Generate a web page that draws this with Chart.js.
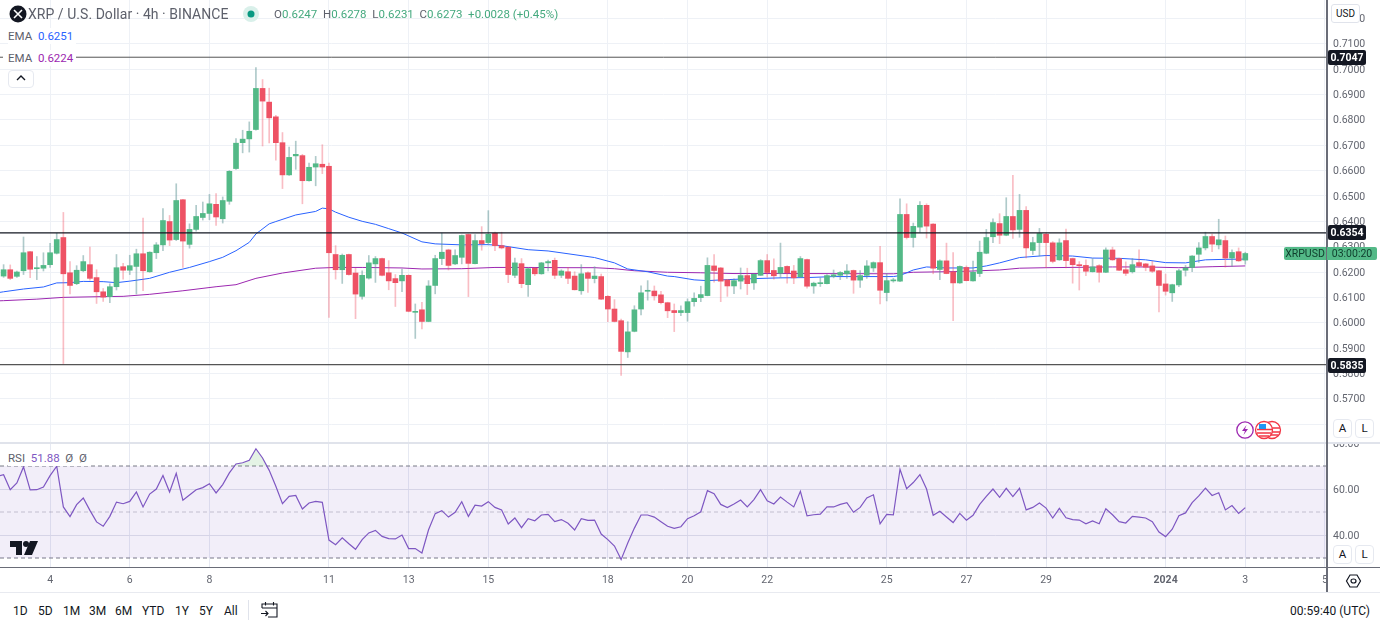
<!DOCTYPE html>
<html>
<head>
<meta charset="utf-8">
<title>XRP / U.S. Dollar</title>
<script src="https://cdn.jsdelivr.net/npm/chart.js@4"></script>
<style>
html, body { margin: 0; padding: 0; background: #fff; overflow: hidden; }
body { width: 1380px; height: 627px; position: relative; font-family: Roboto, sans-serif; color: #5d606b; }
canvas { position: absolute; left: 0; display: block; }
#priceChart { top: 0; }
#rsiChart { top: 443px; }
.t { position: absolute; white-space: nowrap; line-height: 16px; }
.line { position: absolute; }
.badge { position: absolute; left: 1328px; width: 38px; height: 15px; line-height: 15px; background: #131722; color: #fff; font-size: 10.5px; font-weight: 700; text-align: center; border-radius: 2px; }
.btn { position: absolute; width: 17px; height: 17px; line-height: 17px; border: 1px solid #e6e9f0; border-radius: 4px; text-align: center; font-size: 11.5px; color: #131722; background: #fff; }
.g { color: #45a97f; }
.range { position: absolute; top: 603px; font-size: 12px; line-height: 16px; color: #131722; }
svg { position: absolute; overflow: visible; }
</style>
</head>
<body>
<canvas id="priceChart" width="1380" height="443"></canvas>
<canvas id="rsiChart" width="1380" height="149"></canvas>

<div class="line" style="left:0;top:442px;width:1380px;height:2px;background:#e0e3eb"></div>
<div class="line" style="left:1327px;top:568px;width:53px;height:24px;background:#fff"></div>
<div class="line" style="left:1328px;top:415px;width:52px;height:27px;background:#fff"></div>
<div class="line" style="left:1326px;top:0;width:1.5px;height:592px;background:#6a6d78"></div>
<div class="line" style="left:0;top:567px;width:1380px;height:1px;background:#6a6d78"></div>
<div class="line" style="left:0;top:592px;width:1380px;height:1px;background:#e8eaf0"></div>

<svg style="left:9px;top:5px" width="18" height="18" viewBox="0 0 18 18"><circle cx="9" cy="9" r="8.5" fill="#131722"/><path d="M5 5L13 13M13 5L5 13" stroke="#fff" stroke-width="1.6"/></svg>
<div class="t" style="left:28px;top:6px;font-size:14px;letter-spacing:0.04px;color:#5d606b">XRP / U.S. Dollar · 4h · BINANCE</div>
<svg style="left:243px;top:6px" width="16" height="16" viewBox="0 0 16 16"><circle cx="8" cy="8" r="8" fill="#d9f0ea"/><circle cx="8" cy="8" r="3.5" fill="#089981"/></svg>
<div class="t" style="left:274px;top:6px;font-size:11.5px">O<span class="g">0.6247</span>&nbsp; H<span class="g">0.6278</span>&nbsp; L<span class="g">0.6231</span>&nbsp; C<span class="g">0.6273</span>&nbsp; <span class="g">+0.0028 (+0.45%)</span></div>
<div class="t" style="left:8px;top:28px;font-size:11.5px;background:#fff;padding-right:3px">EMA&nbsp; <span style="color:#2962ff">0.6251</span></div>
<div class="t" style="left:3px;top:50px;padding:0 3px 0 5px;font-size:11.5px;background:#fff">EMA&nbsp; <span style="color:#9c27b0">0.6224</span></div>
<div class="btn" style="left:8px;top:70px;width:24px;height:16px;line-height:16px"></div>
<svg style="left:16px;top:75px" width="10" height="6"><path d="M1 5L5 1L9 5" fill="none" stroke="#131722" stroke-width="1.4"/></svg>

<div class="t" style="left:1331px;top:4px;width:27px;height:17px;line-height:17px;font-size:10px;text-align:center;color:#131722;border:1px solid #e0e3eb;border-radius:3px;background:#fff">USD</div>
<div class="badge" style="top:50px">0.7047</div>
<div class="badge" style="top:225px">0.6354</div>
<div class="badge" style="top:358px">0.5835</div>
<div class="t" style="left:1284px;top:247px;width:42px;height:13px;line-height:13px;font-size:10.5px;text-align:center;background:#53b987;color:#0f3d2c;border-radius:2px 0 0 2px">XRPUSD</div>
<div class="t" style="left:1327px;top:247px;width:50px;height:13px;line-height:13px;font-size:10.5px;text-align:center;background:#53b987;color:#0f3d2c;border-radius:0 2px 2px 0">03:00:20</div>

<svg style="left:1236px;top:421px" width="46" height="18" viewBox="0 0 46 18">
<circle cx="9" cy="9" r="8.2" fill="#fff" stroke="#9c27b0" stroke-width="1.3"/><path d="M10.5 4L6 10H9L7.5 14L12 8H9Z" fill="#9c27b0"/>
<circle cx="36" cy="9" r="8.5" fill="#fff" stroke="#f23645" stroke-width="1.3"/><path d="M29 7H44M29 11H44M30 14H42" stroke="#f23645" stroke-width="1.6"/>
<circle cx="28" cy="9" r="8.5" fill="#fff" stroke="#f23645" stroke-width="1.3"/><path d="M21 8.5H36M21 12H35M23 15H33" stroke="#f23645" stroke-width="1.6"/><rect x="23" y="3" width="7" height="5" fill="#2196f3"/>
</svg>
<div class="btn" style="left:1333px;top:419px">A</div>
<div class="btn" style="left:1355px;top:419px">L</div>

<div class="t" style="left:8px;top:450px;font-size:11.5px;background:#fff;padding-right:3px">RSI&nbsp; <span style="color:#7e57c2">51.88</span>&nbsp; Ø&nbsp; Ø</div>
<svg style="left:10px;top:541px" width="28" height="14" viewBox="0 0 28 14"><path d="M0 0H12V14H6V6H0ZM20 0H28L22 14H14Z" fill="#131722"/><circle cx="16" cy="3" r="3" fill="#131722"/></svg>
<div class="btn" style="left:1333px;top:545px">A</div>
<div class="btn" style="left:1355px;top:545px">L</div>
<svg style="left:1346px;top:574px" width="15" height="14" viewBox="0 0 15 14"><path d="M4 1H11L14.5 7L11 13H4L0.5 7Z" fill="none" stroke="#131722" stroke-width="1.2"/><ellipse cx="7.5" cy="7" rx="2.5" ry="2" fill="none" stroke="#131722" stroke-width="1.2"/></svg>

<div class="range" style="left:13px">1D</div>
<div class="range" style="left:38px">5D</div>
<div class="range" style="left:63px">1M</div>
<div class="range" style="left:89px">3M</div>
<div class="range" style="left:115px">6M</div>
<div class="range" style="left:142px">YTD</div>
<div class="range" style="left:175px">1Y</div>
<div class="range" style="left:199px">5Y</div>
<div class="range" style="left:224px">All</div>
<div class="line" style="left:248px;top:600px;width:1px;height:20px;background:#e0e3eb"></div>
<svg style="left:261px;top:601px" width="17" height="17" viewBox="0 0 17 17"><path d="M1 7V3H16V16H7M1 7H16M4.5 1V4.5M12.5 1V4.5M0 12.5H7M4.5 10L7 12.5L4.5 15" fill="none" stroke="#131722" stroke-width="1.1"/></svg>
<div class="t" style="left:1290px;top:603px;font-size:12px;color:#131722">00:59:40 (UTC)</div>

<script>
const opens = [
    0.6184, 0.6209, 0.6183, 0.6205, 0.6280, 0.6213, 0.6215, 0.6229, 0.6274, 0.6336,
    0.6197, 0.6154, 0.6205, 0.6229, 0.6178, 0.6122, 0.6103, 0.6142, 0.6221, 0.6207,
    0.6222, 0.6272, 0.6201, 0.6276, 0.6307, 0.6399, 0.6328, 0.6485, 0.6309, 0.6368,
    0.6415, 0.6431, 0.6467, 0.6410, 0.6479, 0.6608, 0.6710, 0.6725, 0.6762, 0.6924,
    0.6870, 0.6812, 0.6710, 0.6583, 0.6658, 0.6659, 0.6560, 0.6614, 0.6625, 0.6617,
    0.6269, 0.6209, 0.6269, 0.6196, 0.6104, 0.6176, 0.6232, 0.6253, 0.6197, 0.6174,
    0.6165, 0.6187, 0.6041, 0.6051, 0.6005, 0.6147, 0.6253, 0.6287, 0.6232, 0.6258,
    0.6348, 0.6233, 0.6324, 0.6316, 0.6353, 0.6304, 0.6298, 0.6187, 0.6233, 0.6150,
    0.6215, 0.6193, 0.6236, 0.6246, 0.6187, 0.6201, 0.6184, 0.6126, 0.6197, 0.6174,
    0.6182, 0.6104, 0.6054, 0.6008, 0.5885, 0.5966, 0.6054, 0.6124, 0.6125, 0.6110,
    0.6079, 0.6048, 0.6040, 0.6040, 0.6083, 0.6099, 0.6107, 0.6224, 0.6216, 0.6169,
    0.6145, 0.6164, 0.6186, 0.6157, 0.6187, 0.6245, 0.6206, 0.6195, 0.6222, 0.6204,
    0.6181, 0.6249, 0.6145, 0.6154, 0.6154, 0.6183, 0.6187, 0.6193, 0.6206, 0.6168,
    0.6187, 0.6216, 0.6237, 0.6119, 0.6165, 0.6164, 0.6427, 0.6336, 0.6377, 0.6463,
    0.6389, 0.6210, 0.6244, 0.6200, 0.6157, 0.6218, 0.6165, 0.6194, 0.6274, 0.6339,
    0.6391, 0.6345, 0.6419, 0.6368, 0.6443, 0.6285, 0.6316, 0.6349, 0.6315, 0.6248,
    0.6324, 0.6253, 0.6228, 0.6226, 0.6201, 0.6225, 0.6199, 0.6287, 0.6253, 0.6209,
    0.6201, 0.6237, 0.6232, 0.6224, 0.6205, 0.6153, 0.6118, 0.6149, 0.6207, 0.6218,
    0.6270, 0.6295, 0.6340, 0.6307, 0.6324, 0.6255, 0.6280, 0.6247,
];
const closes = [
    0.6209, 0.6175, 0.6200, 0.6276, 0.6211, 0.6217, 0.6226, 0.6276, 0.6328, 0.6193,
    0.6147, 0.6207, 0.6241, 0.6175, 0.6122, 0.6101, 0.6142, 0.6217, 0.6207, 0.6225,
    0.6272, 0.6205, 0.6278, 0.6307, 0.6403, 0.6326, 0.6482, 0.6322, 0.6368, 0.6419,
    0.6431, 0.6469, 0.6417, 0.6482, 0.6597, 0.6708, 0.6724, 0.6755, 0.6924, 0.6874,
    0.6808, 0.6710, 0.6583, 0.6652, 0.6664, 0.6560, 0.6613, 0.6627, 0.6614, 0.6276,
    0.6209, 0.6266, 0.6190, 0.6113, 0.6187, 0.6236, 0.6253, 0.6187, 0.6165, 0.6158,
    0.6187, 0.6045, 0.6045, 0.6005, 0.6145, 0.6253, 0.6278, 0.6226, 0.6265, 0.6344,
    0.6234, 0.6324, 0.6312, 0.6349, 0.6304, 0.6295, 0.6190, 0.6236, 0.6154, 0.6213,
    0.6193, 0.6236, 0.6241, 0.6187, 0.6204, 0.6175, 0.6130, 0.6193, 0.6175, 0.6184,
    0.6093, 0.6054, 0.6005, 0.5887, 0.5964, 0.6051, 0.6118, 0.6126, 0.6106, 0.6079,
    0.6047, 0.6040, 0.6048, 0.6083, 0.6096, 0.6111, 0.6226, 0.6206, 0.6164, 0.6145,
    0.6166, 0.6186, 0.6154, 0.6191, 0.6245, 0.6198, 0.6185, 0.6218, 0.6197, 0.6177,
    0.6253, 0.6144, 0.6156, 0.6157, 0.6186, 0.6189, 0.6198, 0.6204, 0.6168, 0.6186,
    0.6224, 0.6237, 0.6128, 0.6166, 0.6169, 0.6427, 0.6336, 0.6380, 0.6463, 0.6381,
    0.6215, 0.6244, 0.6194, 0.6157, 0.6222, 0.6166, 0.6199, 0.6278, 0.6336, 0.6395,
    0.6345, 0.6419, 0.6366, 0.6443, 0.6295, 0.6316, 0.6352, 0.6316, 0.6242, 0.6315,
    0.6245, 0.6229, 0.6225, 0.6203, 0.6220, 0.6199, 0.6287, 0.6248, 0.6207, 0.6195,
    0.6229, 0.6224, 0.6219, 0.6203, 0.6147, 0.6124, 0.6150, 0.6205, 0.6216, 0.6263,
    0.6295, 0.6340, 0.6310, 0.6327, 0.6255, 0.6277, 0.6244, 0.6273,
];
const highs = [
    0.6229, 0.6228, 0.6204, 0.6338, 0.6282, 0.6261, 0.6276, 0.6313, 0.6353, 0.6435,
    0.6241, 0.6225, 0.6265, 0.6298, 0.6209, 0.6135, 0.6153, 0.6269, 0.6234, 0.6266,
    0.6290, 0.6413, 0.6280, 0.6316, 0.6450, 0.6423, 0.6548, 0.6487, 0.6390, 0.6463,
    0.6476, 0.6506, 0.6509, 0.6496, 0.6600, 0.6726, 0.6759, 0.6792, 0.7006, 0.6959,
    0.6925, 0.6818, 0.6750, 0.6693, 0.6716, 0.6664, 0.6630, 0.6656, 0.6702, 0.6630,
    0.6304, 0.6271, 0.6271, 0.6215, 0.6205, 0.6265, 0.6261, 0.6255, 0.6245, 0.6190,
    0.6212, 0.6189, 0.6074, 0.6080, 0.6166, 0.6266, 0.6354, 0.6290, 0.6287, 0.6346,
    0.6350, 0.6348, 0.6379, 0.6442, 0.6357, 0.6357, 0.6300, 0.6255, 0.6253, 0.6215,
    0.6217, 0.6238, 0.6247, 0.6255, 0.6209, 0.6218, 0.6201, 0.6229, 0.6201, 0.6221,
    0.6192, 0.6107, 0.6091, 0.6014, 0.6004, 0.6067, 0.6146, 0.6166, 0.6145, 0.6124,
    0.6081, 0.6074, 0.6067, 0.6094, 0.6118, 0.6144, 0.6256, 0.6269, 0.6218, 0.6171,
    0.6173, 0.6216, 0.6215, 0.6193, 0.6249, 0.6269, 0.6252, 0.6314, 0.6224, 0.6226,
    0.6261, 0.6251, 0.6160, 0.6177, 0.6190, 0.6208, 0.6202, 0.6229, 0.6208, 0.6206,
    0.6245, 0.6240, 0.6301, 0.6193, 0.6175, 0.6489, 0.6469, 0.6393, 0.6478, 0.6469,
    0.6391, 0.6248, 0.6314, 0.6277, 0.6224, 0.6224, 0.6243, 0.6322, 0.6368, 0.6410,
    0.6430, 0.6493, 0.6581, 0.6506, 0.6458, 0.6337, 0.6372, 0.6354, 0.6320, 0.6331,
    0.6369, 0.6255, 0.6241, 0.6248, 0.6253, 0.6229, 0.6295, 0.6298, 0.6255, 0.6240,
    0.6253, 0.6287, 0.6234, 0.6242, 0.6207, 0.6192, 0.6152, 0.6211, 0.6226, 0.6265,
    0.6316, 0.6357, 0.6350, 0.6408, 0.6342, 0.6287, 0.6295, 0.6278,
];
const lows = [
    0.6179, 0.6170, 0.6179, 0.6190, 0.6178, 0.6170, 0.6204, 0.6218, 0.6271, 0.5839,
    0.6114, 0.6150, 0.6201, 0.6168, 0.6076, 0.6084, 0.6079, 0.6129, 0.6172, 0.6190,
    0.6113, 0.6126, 0.6199, 0.6253, 0.6284, 0.6304, 0.6324, 0.6218, 0.6294, 0.6361,
    0.6405, 0.6406, 0.6384, 0.6393, 0.6467, 0.6605, 0.6670, 0.6673, 0.6759, 0.6697,
    0.6709, 0.6641, 0.6529, 0.6581, 0.6605, 0.6469, 0.6558, 0.6540, 0.6588, 0.6021,
    0.6172, 0.6155, 0.6188, 0.6016, 0.6093, 0.6172, 0.6159, 0.6185, 0.6130, 0.6064,
    0.6122, 0.6043, 0.5938, 0.5976, 0.6004, 0.6114, 0.6229, 0.6208, 0.6229, 0.6232,
    0.6103, 0.6232, 0.6286, 0.6307, 0.6284, 0.6291, 0.6158, 0.6178, 0.6138, 0.6104,
    0.6186, 0.6191, 0.6204, 0.6174, 0.6178, 0.6154, 0.6129, 0.6112, 0.6120, 0.6157,
    0.6091, 0.6004, 0.6003, 0.5792, 0.5863, 0.5964, 0.6031, 0.6089, 0.6089, 0.6074,
    0.6020, 0.5965, 0.6028, 0.6006, 0.6065, 0.6083, 0.6106, 0.6160, 0.6083, 0.6104,
    0.6115, 0.6133, 0.6111, 0.6131, 0.6186, 0.6180, 0.6172, 0.6177, 0.6156, 0.6154,
    0.6179, 0.6136, 0.6116, 0.6143, 0.6153, 0.6177, 0.6170, 0.6175, 0.6116, 0.6139,
    0.6175, 0.6202, 0.6074, 0.6086, 0.6160, 0.6162, 0.6330, 0.6298, 0.6357, 0.6334,
    0.6193, 0.6170, 0.6193, 0.6008, 0.6155, 0.6165, 0.6164, 0.6182, 0.6272, 0.6316,
    0.6312, 0.6343, 0.6332, 0.6337, 0.6256, 0.6269, 0.6264, 0.6217, 0.6236, 0.6246,
    0.6216, 0.6156, 0.6129, 0.6186, 0.6200, 0.6160, 0.6197, 0.6246, 0.6205, 0.6186,
    0.6196, 0.6219, 0.6205, 0.6198, 0.6043, 0.6109, 0.6084, 0.6142, 0.6184, 0.6201,
    0.6238, 0.6287, 0.6280, 0.6291, 0.6219, 0.6222, 0.6242, 0.6231,
];

// EMAs read at the bars where the curve bends
const emaFastBars = [-1, 0, 3, 6, 8, 10, 12, 15, 17, 19, 22, 25, 28, 31, 33, 35, 37, 38, 40, 41, 44, 47, 48, 49, 50, 52, 54, 56, 58, 60, 63, 65, 69, 73, 75, 79, 82, 85, 89, 92, 94, 97, 100, 101, 104, 106, 109, 113, 117, 121, 125, 129, 134, 135, 137, 139, 142, 146, 148, 150, 153, 157, 161, 164, 168, 172, 175, 178, 181, 184, 187];
const emaFast = [0.6118, 0.6122, 0.6133, 0.6141, 0.6157, 0.6158, 0.6163, 0.6162, 0.6158, 0.6164, 0.6175, 0.6199, 0.6218, 0.6241, 0.6258, 0.6284, 0.6317, 0.6350, 0.6390, 0.6399, 0.6425, 0.6439, 0.6452, 0.6449, 0.6436, 0.6416, 0.6400, 0.6388, 0.6371, 0.6354, 0.6319, 0.6311, 0.6307, 0.6308, 0.6304, 0.6288, 0.6283, 0.6272, 0.6257, 0.6236, 0.6212, 0.6201, 0.6184, 0.6182, 0.6169, 0.6166, 0.6170, 0.6174, 0.6177, 0.6178, 0.6182, 0.6182, 0.6182, 0.6186, 0.6208, 0.6220, 0.6216, 0.6216, 0.6224, 0.6236, 0.6257, 0.6265, 0.6263, 0.6255, 0.6254, 0.6248, 0.6237, 0.6236, 0.6248, 0.6250, 0.6251];
const emaSlowBars = [-1, 0, 5, 9, 15, 18, 22, 27, 32, 35, 38, 42, 47, 50, 54, 60, 63, 69, 74, 79, 85, 89, 92, 95, 100, 105, 110, 120, 134, 137, 144, 150, 153, 157, 167, 172, 177, 182, 187];
const emaSlow = [0.6086, 0.6087, 0.6093, 0.6100, 0.6103, 0.6104, 0.6112, 0.6126, 0.6142, 0.6150, 0.6175, 0.6196, 0.6215, 0.6218, 0.6218, 0.6216, 0.6212, 0.6213, 0.6218, 0.6218, 0.6217, 0.6217, 0.6213, 0.6205, 0.6199, 0.6197, 0.6194, 0.6194, 0.6193, 0.6199, 0.6202, 0.6208, 0.6215, 0.6217, 0.6220, 0.6220, 0.6217, 0.6221, 0.6224];

// first value sits one bar left of the first candle
const rsi = [
    65.5,
    66.2, 59.7, 62.6, 69.6, 59.6, 59.7, 60.9, 65.8, 69.9, 52.2,
    48.0, 53.2, 56.1, 50.7, 45.7, 43.8, 48.1, 54.3, 53.6, 54.6,
    58.7, 52.2, 57.8, 60.0, 65.9, 58.7, 66.8, 55.1, 57.4, 59.7,
    60.6, 62.3, 58.3, 61.9, 67.0, 70.9, 71.4, 72.5, 77.5, 73.5,
    68.1, 61.2, 53.6, 56.8, 57.2, 51.3, 53.9, 54.6, 54.2, 37.8,
    35.8, 38.8, 36.2, 33.8, 38.0, 40.9, 42.0, 39.4, 38.4, 38.3,
    40.0, 34.1, 34.1, 32.2, 42.3, 49.3, 50.6, 47.8, 49.9, 54.5,
    48.1, 53.0, 52.6, 54.5, 52.0, 50.9, 44.8, 47.4, 43.2, 47.1,
    46.2, 48.7, 49.0, 45.8, 46.7, 45.1, 42.2, 47.1, 46.4, 46.5,
    40.4, 38.0, 35.2, 29.3, 36.5, 43.0, 48.7, 48.7, 47.8, 45.8,
    43.8, 42.9, 43.6, 47.1, 48.4, 50.1, 59.3, 58.0, 53.3, 51.9,
    53.5, 55.2, 52.2, 55.4, 59.7, 54.9, 53.5, 56.5, 54.3, 52.2,
    59.0, 48.3, 48.8, 49.1, 52.2, 52.2, 53.3, 54.1, 49.9, 52.0,
    56.1, 57.5, 44.9, 49.0, 48.8, 68.6, 60.1, 62.8, 66.3, 60.0,
    48.6, 50.3, 47.8, 45.4, 49.4, 46.4, 48.6, 53.3, 56.8, 60.0,
    56.4, 60.3, 56.7, 60.3, 50.9, 52.0, 53.9, 51.7, 47.4, 51.6,
    47.5, 46.7, 46.5, 44.9, 46.1, 44.9, 51.4, 48.8, 45.8, 45.2,
    48.1, 47.8, 47.4, 45.8, 41.3, 39.3, 42.5, 48.4, 49.6, 54.1,
    57.0, 60.4, 57.2, 58.4, 50.9, 52.8, 49.4, 51.9,
];

const levels = [0.7047, 0.6354, 0.5835];
const rsiBands = [70, 50, 30];
const priceTicks = [0.72, 0.71, 0.70, 0.69, 0.68, 0.67, 0.66, 0.65, 0.64, 0.63, 0.62, 0.61, 0.60, 0.59, 0.58, 0.57, 0.56];
const rsiTicks = [80, 60, 40];
const timeBars = [7, 19, 31, 49, 61, 73, 91, 103, 115, 133, 145, 157, 175, 187, 199];
const timeLabels = ["4", "6", "8", "11", "13", "15", "18", "20", "22", "25", "27", "29", "2024", "3", "5"];

const xMin = -0.542, xMax = 199.307;
const fontName = "Roboto, sans-serif";
const axisColor = "#62656f";
const gridColor = "#eef1f6";
const up = "#53b987", down = "#ee5264";
const upWick = "rgba(96,150,150,0.5)", downWick = "rgba(238,82,100,0.38)";

const isUp = closes.map((c, i) => c >= opens[i]);

function setTimeTicks(scale) {
    scale.ticks = timeBars.map((value) => ({ value }));
}
function timeLabel(v) {
    return timeLabels[timeBars.indexOf(v)];
}
function flatLine(value, color, width, dash) {
    return {
        type: "line",
        data: [{ x: xMin, y: value }, { x: xMax, y: value }],
        borderColor: color,
        borderWidth: width,
        borderDash: dash || [],
        pointRadius: 0,
        order: 0,
    };
}

Chart.defaults.font.family = fontName;
Chart.defaults.animation = false;

new Chart(document.getElementById("priceChart"), {
    type: "bar",
    data: {
        datasets: [
            flatLine(levels[0], "#555", 1),
            flatLine(levels[1], "#131722", 1.2),
            flatLine(levels[2], "#555", 1.2),
            {
                data: opens.map((o, i) => ({ x: i, y: [o, closes[i]] })),
                backgroundColor: isUp.map((u) => (u ? up : down)),
                barThickness: 5,
                minBarLength: 1,
                grouped: false,
                order: 1,
            },
            {
                data: lows.map((l, i) => ({ x: i, y: [l, highs[i]] })),
                backgroundColor: isUp.map((u) => (u ? upWick : downWick)),
                barThickness: 1,
                grouped: false,
                order: 2,
            },
            {
                type: "line",
                data: emaFast.map((y, i) => ({ x: emaFastBars[i], y })),
                borderColor: "#2962ff",
                borderWidth: 1,
                pointRadius: 0,
                order: 3,
            },
            {
                type: "line",
                data: emaSlow.map((y, i) => ({ x: emaSlowBars[i], y })),
                borderColor: "#9c27b0",
                borderWidth: 1,
                pointRadius: 0,
                order: 3,
            },
        ],
    },
    options: {
        responsive: false,
        maintainAspectRatio: false,
        layout: { padding: 0 },
        plugins: { legend: { display: false }, tooltip: { enabled: false } },
        scales: {
            x: {
                type: "linear",
                offset: false,
                min: xMin,
                max: xMax,
                afterBuildTicks: setTimeTicks,
                afterFit: (s) => { s.height = 0; s.paddingLeft = 0; s.paddingRight = 0; },
                ticks: { display: false },
                border: { display: false },
                grid: { color: gridColor, drawTicks: false, offset: false },
            },
            y: {
                position: "right",
                min: 0.55257,
                max: 0.72727,
                afterBuildTicks: (s) => { s.ticks = priceTicks.map((value) => ({ value })); },
                afterFit: (s) => { s.width = 53; s.paddingTop = 0; s.paddingBottom = 0; },
                ticks: {
                    autoSkip: false,
                    color: axisColor,
                    padding: 6,
                    labelOffset: 1,
                    font: { size: 10.5 },
                    callback: (v) => v.toFixed(4),
                },
                border: { display: false },
                grid: { color: gridColor, drawTicks: false },
            },
        },
    },
});

new Chart(document.getElementById("rsiChart"), {
    type: "line",
    data: {
        datasets: [
            {
                data: rsi.map((y, i) => ({ x: i - 1, y })),
                borderColor: "#7e57c2",
                borderWidth: 1.2,
                pointRadius: 0,
                fill: { target: { value: rsiBands[0] }, above: "rgba(76,175,80,0.15)", below: "transparent" },
                order: 0,
            },
            { ...flatLine(rsiBands[0], "#787b86", 1, [4, 3]), fill: "+1", backgroundColor: "rgba(126,87,194,0.1)", order: 1 },
            { ...flatLine(rsiBands[2], "#787b86", 1, [4, 3]), order: 1 },
            { ...flatLine(rsiBands[1], "rgba(120,123,134,0.4)", 1, [4, 3]), order: 1 },
        ],
    },
    options: {
        responsive: false,
        maintainAspectRatio: false,
        layout: { padding: 0 },
        plugins: { legend: { display: false }, tooltip: { enabled: false } },
        scales: {
            x: {
                type: "linear",
                min: xMin,
                max: xMax,
                afterBuildTicks: setTimeTicks,
                afterFit: (s) => { s.height = 25; s.paddingLeft = 0; s.paddingRight = 0; },
                ticks: {
                    autoSkip: false,
                    maxRotation: 0,
                    color: axisColor,
                    padding: 7,
                    font: (ctx) => ({ size: 10.5, weight: ctx.tick && ctx.tick.value === 175 ? "bold" : "normal" }),
                    callback: timeLabel,
                },
                border: { display: false },
                grid: { color: "#e6e9f2", drawTicks: false },
            },
            y: {
                position: "right",
                min: 26.09,
                max: 80,
                afterBuildTicks: (s) => { s.ticks = rsiTicks.map((value) => ({ value })); },
                afterFit: (s) => { s.width = 53; s.paddingTop = 0; s.paddingBottom = 0; },
                ticks: {
                    autoSkip: false,
                    color: axisColor,
                    padding: 6,
                    labelOffset: 1,
                    font: { size: 10.5 },
                    callback: (v) => v.toFixed(2),
                },
                border: { display: false },
                grid: { color: "#e0e3eb", drawTicks: false },
            },
        },
    },
});
</script>
</body>
</html>
